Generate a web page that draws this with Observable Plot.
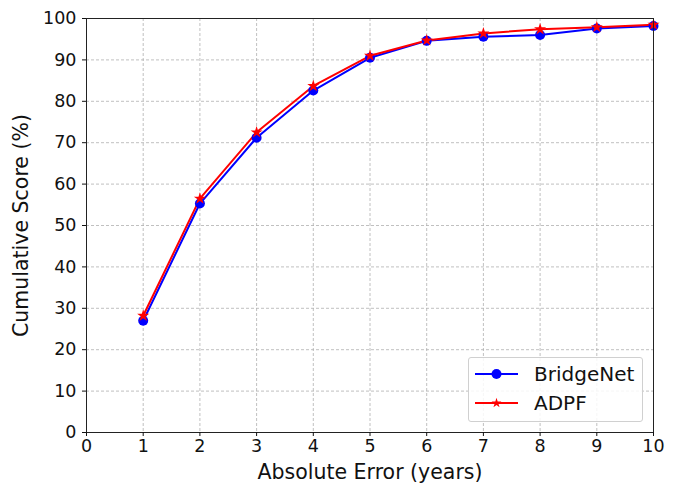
<!DOCTYPE html>
<html>
<head>
<meta charset="utf-8">
<script src="https://cdn.jsdelivr.net/npm/d3@7"></script>
<script src="https://cdn.jsdelivr.net/npm/@observablehq/plot@0.6"></script>
<style>
  html, body { margin: 0; padding: 0; background: #fff; }
  #wrap { position: relative; width: 678px; height: 483px; font-family: "DejaVu Sans", sans-serif; }
  #legend { position: absolute; left: 468px; top: 357px; width: 175px; height: 65px; border: 1px solid #d0d0d0; border-radius: 3px; background: rgba(255,255,255,0.85); box-sizing: border-box; font-size: 20px; color: #111; }
  #legend .row { position: absolute; left: 5px; height: 28px; display: flex; align-items: center; }
  #legend svg { margin-right: 15px; }
</style>
</head>
<body>
<div id="wrap"></div>
<script>
const errors = [1, 2, 3, 4, 5, 6, 7, 8, 9, 10];
const bridgeNet = [27.0, 55.3, 71.2, 82.6, 90.5, 94.6, 95.6, 96.0, 97.6, 98.2];
const adpf = [28.2, 56.5, 72.5, 83.7, 91.0, 94.7, 96.4, 97.4, 97.9, 98.5];
const seriesNames = ["BridgeNet", "ADPF"];
const seriesColors = ["#0000ff", "#ff0000"];
const seriesSymbols = ["circle", "star"];
const xTicks = [0, 1, 2, 3, 4, 5, 6, 7, 8, 9, 10];
const yTicks = [0, 10, 20, 30, 40, 50, 60, 70, 80, 90, 100];

const rows = [];
errors.forEach((e, i) => {
  rows.push({x: e, y: bridgeNet[i], s: seriesNames[0]});
  rows.push({x: e, y: adpf[i], s: seriesNames[1]});
});

const chart = Plot.plot({
  width: 678,
  height: 483,
  marginLeft: 86,
  marginRight: 25,
  marginTop: 18,
  marginBottom: 51,
  style: {fontFamily: "DejaVu Sans, sans-serif", fontSize: "17.5px", color: "#111", background: "#fff"},
  x: {domain: [0, 10]},
  y: {domain: [0, 100]},
  color: {domain: seriesNames, range: seriesColors},
  symbol: {domain: seriesNames, range: seriesSymbols},
  marks: [
    Plot.gridX(xTicks.slice(1, -1), {stroke: "#b0b0b0", strokeOpacity: 1, strokeDasharray: "3,2", strokeWidth: 0.8}),
    Plot.gridY(yTicks.slice(1, -1), {stroke: "#b0b0b0", strokeOpacity: 1, strokeDasharray: "3,2", strokeWidth: 0.8}),
    Plot.line(rows, {x: "x", y: "y", z: "s", stroke: "s", strokeWidth: 2}),
    Plot.dot(rows.filter(d => d.s === seriesNames[0]), {x: "x", y: "y", fill: "s", symbol: "s", r: 5, strokeWidth: 0}),
    Plot.dot(rows.filter(d => d.s === seriesNames[1]), {x: "x", y: "y", fill: "s", symbol: "s", r: 3.8, strokeWidth: 0}),
    Plot.frame({stroke: "#222", strokeWidth: 1}),
    Plot.axisX({ticks: xTicks, tickSize: 4, tickPadding: 3, label: "Absolute Error (years)", labelAnchor: "center", labelOffset: 46, labelArrow: "none", fontSize: 17.5}),
    Plot.axisY({ticks: yTicks, tickSize: 4, tickPadding: 6, label: "Cumulative Score (%)", labelAnchor: "center", labelOffset: 73, labelArrow: "none", fontSize: 17.5})
  ]
});

const wrap = document.getElementById("wrap");
wrap.appendChild(chart);
chart.querySelectorAll('[aria-label="x-axis label"], [aria-label="y-axis label"]').forEach(g => {
  g.setAttribute("font-size", "20.5");
  g.querySelectorAll("text").forEach(t => t.setAttribute("font-size", "20.5"));
});

const legend = document.createElement("div");
legend.id = "legend";
seriesNames.forEach((name, i) => {
  const row = document.createElement("div");
  row.className = "row";
  row.style.top = (2 + i * 29) + "px";
  const isStar = seriesSymbols[i] === "star";
  const sym = d3.symbol(isStar ? d3.symbolStar : d3.symbolCircle, isStar ? 30 : 78)();
  row.innerHTML = `<svg width="45" height="14"><line x1="1" y1="7" x2="44" y2="7" stroke="${seriesColors[i]}" stroke-width="2"/><path transform="translate(22.5,7)" d="${sym}" fill="${seriesColors[i]}"/></svg><span>${name}</span>`;
  legend.appendChild(row);
});
wrap.appendChild(legend);
</script>
</body>
</html>
